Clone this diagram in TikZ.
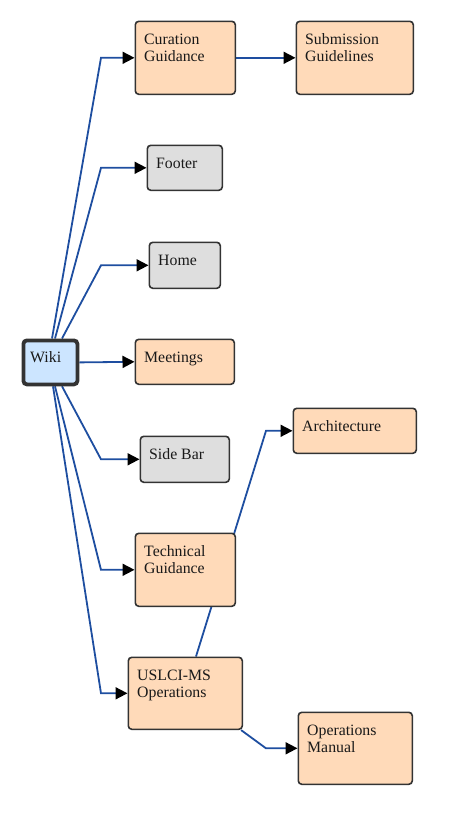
\documentclass[tikz,border=0pt]{standalone}
\usepackage{fontspec}
\setmainfont{Liberation Serif}
\newfontfamily\labelfont{Liberation Serif}
\usetikzlibrary{arrows.meta,calc}
\pgfdeclarelayer{background}
\pgfsetlayers{background,main}
\definecolor{peach}{HTML}{FFDAB9}
\definecolor{grayfill}{HTML}{DEDEDE}
\definecolor{bluefill}{HTML}{CCE5FF}
\definecolor{border}{HTML}{333333}
\definecolor{edgeblue}{HTML}{1E4EA0}
\tikzset{
  box/.style={draw=border, line width=1.6pt, rounded corners=3.5pt, inner sep=0pt, anchor=north west},
  obox/.style={box, fill=peach},
  gbox/.style={box, fill=grayfill},
  wbox/.style={box, fill=bluefill, line width=3.8pt},
  txt/.style={anchor=base west, inner sep=0pt, align=left, text=black!90, font=\labelfont\fontsize{15.8}{17.6}\selectfont},
  edge/.style={draw=edgeblue, line width=1.8pt, -{Triangle[length=12pt,width=12pt,color=black]}},
}
\begin{document}
\begin{tikzpicture}[x=1pt,y=-1pt]
\useasboundingbox (0,0) rectangle (457,825);
% boxes
\node[wbox, minimum width=54pt, minimum height=44pt] (wiki) at (21.5,338.5) {};
\node[obox, minimum width=100pt, minimum height=73pt] (cur) at (134.5,20.5) {};
\node[obox, minimum width=117pt, minimum height=73pt] (sub) at (295.5,20.5) {};
\node[gbox, minimum width=75pt, minimum height=45pt] (foot) at (146.5,144.5) {};
\node[gbox, minimum width=71pt, minimum height=46pt] (home) at (148.5,241.5) {};
\node[obox, minimum width=99pt, minimum height=45pt] (meet) at (134.5,338.5) {};
\node[gbox, minimum width=89pt, minimum height=46pt] (side) at (139.5,435.5) {};
\node[obox, minimum width=100pt, minimum height=73pt] (tech) at (134.5,532.5) {};
\node[obox, minimum width=114pt, minimum height=72pt] (ops) at (127.5,656.5) {};
\node[obox, minimum width=123pt, minimum height=45pt] (arch) at (292.5,407.5) {};
\node[obox, minimum width=114pt, minimum height=72pt] (man) at (297.5,711.5) {};
% labels
\node[txt] (wikit) at ([shift={(8.5pt,-23.5pt)}]wiki.north west) {Wiki};
\node[txt] (curt) at ([shift={(9.5pt,-41.3pt)}]cur.north west) {Curation\\Guidance};
\node[txt] (subt) at ([shift={(9.5pt,-41.3pt)}]sub.north west) {Submission\\Guidelines};
\node[txt] (foott) at ([shift={(9.5pt,-23.5pt)}]foot.north west) {Footer};
\node[txt] (homet) at ([shift={(9.5pt,-23.5pt)}]home.north west) {Home};
\node[txt] (meett) at ([shift={(9.5pt,-23.5pt)}]meet.north west) {Meetings};
\node[txt] (sidet) at ([shift={(9.5pt,-23.5pt)}]side.north west) {Side Bar};
\node[txt] (techt) at ([shift={(9.5pt,-41.3pt)}]tech.north west) {Technical\\Guidance};
\node[txt] (opst) at ([shift={(9.5pt,-41.3pt)}]ops.north west) {USLCI-MS\\Operations};
\node[txt] (archt) at ([shift={(9.5pt,-23.5pt)}]arch.north west) {Architecture};
\node[txt] (mant) at ([shift={(9.5pt,-41.3pt)}]man.north west) {Operations\\Manual};
% elbow columns
\coordinate (ex) at (101,0);
\coordinate (ex2) at (266,0);
\begin{pgfonlayer}{background}
\draw[edge] ([xshift=30.5pt]wiki.north west) -- (ex |- cur.west) -- (cur.west);
\draw[edge] ([xshift=33.5pt]wiki.north west) -- (ex |- foot.west) -- (foot.west);
\draw[edge] ([xshift=40.5pt]wiki.north west) -- (ex |- home.west) -- (home.west);
\draw[edge] (wiki.east) -- (meet.west);
\draw[edge] ([xshift=40.5pt]wiki.south west) -- (ex |- side.west) -- (side.west);
\draw[edge] ([xshift=33.5pt]wiki.south west) -- (ex |- tech.west) -- (tech.west);
\draw[edge] ([xshift=31.5pt]wiki.south west) -- (ex |- ops.west) -- (ops.west);
\draw[edge] (cur.east) -- (sub.west);
\draw[edge] ([xshift=68.5pt]ops.north west) -- (ex2 |- arch.west) -- (arch.west);
\draw[edge] ([xshift=-2pt]ops.south east) -- (ex2 |- man.west) -- (man.west);
\end{pgfonlayer}
\end{tikzpicture}
\end{document}
